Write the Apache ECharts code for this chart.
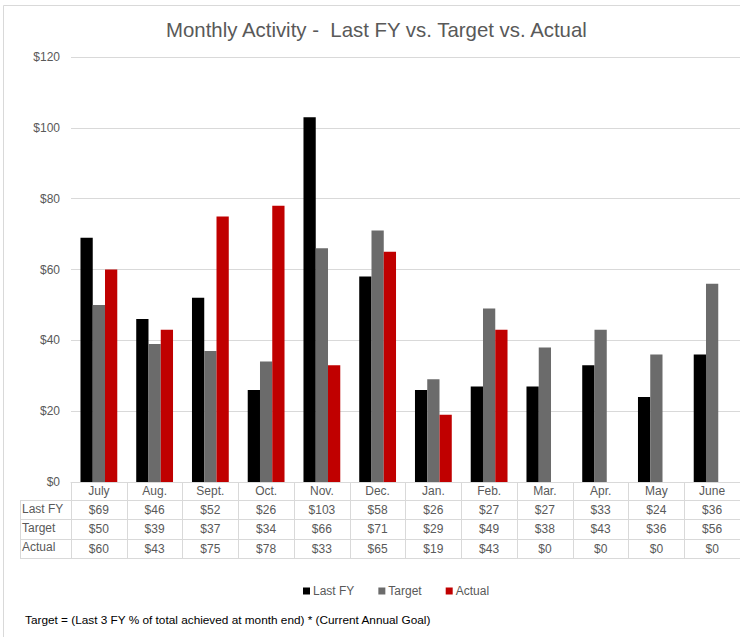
<!DOCTYPE html>
<html>
<head>
<meta charset="utf-8">
<script src="https://cdn.jsdelivr.net/npm/echarts@6/dist/echarts.min.js"></script>
<style>html,body{margin:0;padding:0;background:#fff}#c{width:740px;height:637px}</style>
</head>
<body>
<div id="c"></div>
<script>
const months = ['July','Aug.','Sept.','Oct.','Nov.','Dec.','Jan.','Feb.','Mar.','Apr.','May','June'];
const lastFY = [69,46,52,26,103,58,26,27,27,33,24,36];
const target = [50,39,37,34,66,71,29,49,38,43,36,56];
const actual = [60,43,75,78,33,65,19,43,0,0,0,0];
const seriesNames = ['Last FY','Target','Actual'];
const yTicks = {min:0, max:120, interval:20};
const titleText = 'Monthly Activity -  Last FY vs. Target vs. Actual';
const footnote = 'Target = (Last 3 FY % of total achieved at month end) * (Current Annual Goal)';

const FONT = '"Liberation Sans", Arial, sans-serif';
const TXT = '#595959';
const LINE = '#d9d9d9';
const colors = ['#000000','#6b6b6b','#c00000'];
const rows = [lastFY, target, actual];

const chart = echarts.init(document.getElementById('c'), null, {renderer:'svg'});

const xAxes = [{
  type:'category', data:months, gridIndex:0, position:'bottom',
  axisLine:{show:true, lineStyle:{color:LINE, width:1}},
  axisTick:{show:true, interval:0, length:76, lineStyle:{color:LINE}},
  axisLabel:{interval:0, margin:3, color:TXT, fontSize:12, fontFamily:FONT}
}];
const offsets = [18, 37, 57];
rows.forEach((arr, r) => {
  xAxes.push({
    type:'category', data:months, gridIndex:0, position:'bottom', offset:offsets[r],
    axisLine:{show:true, lineStyle:{color:LINE, width:1}},
    axisTick:{show:false},
    axisLabel:{interval:0, margin:4, color:TXT, fontSize:12, fontFamily:FONT,
      formatter:(v, i) => '$' + arr[i]}
  });
});
xAxes.push({
  type:'category', data:months, gridIndex:0, position:'bottom', offset:76,
  axisLine:{show:true, lineStyle:{color:LINE, width:1}},
  axisTick:{show:false}, axisLabel:{show:false}
});

const graphics = [
  {type:'rect', shape:{x:3.5, y:5.5, width:800, height:700}, style:{fill:'none', stroke:LINE, lineWidth:1}, silent:true},
  {type:'line', shape:{x1:20.5, y1:500, x2:20.5, y2:558.5}, style:{stroke:LINE, lineWidth:1}},
];
[500, 519, 539, 558].forEach(y => {
  graphics.push({type:'line', shape:{x1:20, y1:y+0.5, x2:71, y2:y+0.5}, style:{stroke:LINE, lineWidth:1}});
});
const rowCenters = [510, 529, 548];
seriesNames.forEach((n, r) => {
  graphics.push({type:'text', left:22, top:rowCenters[r]-7,
    style:{text:n, fill:TXT, font:'12px ' + FONT}});
});

chart.setOption({
  animation:false,
  color:colors,
  title:[
    {text:titleText, left:166, top:20, padding:0, textStyle:{color:TXT, fontSize:20.4, fontWeight:'normal', fontFamily:FONT}},
    {text:footnote, left:25, top:614, padding:0, textStyle:{color:'#000', fontSize:11.8, fontWeight:'normal', fontFamily:FONT}}
  ],
  legend:{data:seriesNames, left:298, top:580, icon:'rect', itemWidth:7, itemHeight:7, itemGap:24,
    textStyle:{color:TXT, fontSize:12, fontFamily:FONT, padding:[0,0,0,-2]}},
  grid:{left:71, top:57, width:678, height:425, containLabel:false},
  xAxis:xAxes,
  yAxis:{type:'value', min:yTicks.min, max:yTicks.max, interval:yTicks.interval,
    axisLine:{show:false}, axisTick:{show:false},
    splitLine:{lineStyle:{color:LINE, width:1}},
    axisLabel:{formatter:v => '$' + v, color:TXT, fontSize:12, fontFamily:FONT, margin:11}},
  series:rows.map((arr, r) => ({
    name:seriesNames[r], type:'bar', data:arr, xAxisIndex:0,
    barGap:'0%', barCategoryGap:'34%',
    itemStyle:{color:colors[r]}
  })),
  graphic:graphics
});
</script>
</body>
</html>
